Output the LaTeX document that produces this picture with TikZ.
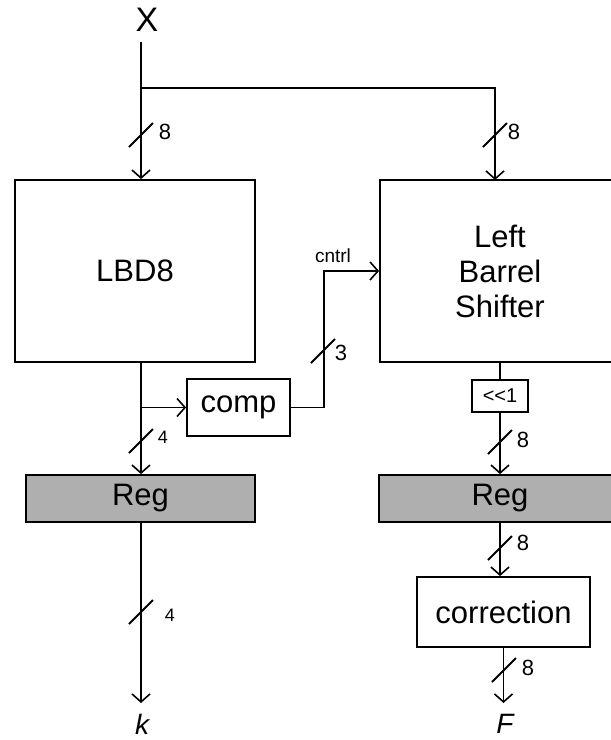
\documentclass[tikz,border=0pt]{standalone}
\usepackage{fontspec}
\setmainfont{Liberation Sans}
\usetikzlibrary{arrows.meta}
\definecolor{regfill}{RGB}{175,175,175}
\tikzset{
  blk/.style={draw, line width=1.8pt, inner sep=0pt, font=\fontsize{31}{35}\selectfont, align=center},
  arr/.style={line width=1.6pt, -{Straight Barb[length=8pt,width=18pt,line width=1.6pt]}},
  wire/.style={line width=1.6pt},
  busmark/.style={line width=1.8pt},
  buslbl/.style={font=\fontsize{22}{24}\selectfont, inner sep=0pt},
  buslbls/.style={font=\fontsize{18}{20}\selectfont, inner sep=0pt},
}
\begin{document}
\begin{tikzpicture}[x=1pt,y=-1pt]
\useasboundingbox (0,0) rectangle (611,740);
\clip (0,0) rectangle (611,740);

% blocks
\node[blk, minimum width=240pt, minimum height=182pt] (lbd) at (135,271) {LBD8};
\node[blk, minimum width=240pt, minimum height=182pt] (lbs) at (500,271) {Left\\Barrel\\Shifter};
\node[blk, minimum width=103pt, minimum height=57pt] (comp) at (238.5,407.5) {comp};
\node[blk, font=\fontsize{20}{22}\selectfont, minimum width=56pt, minimum height=32pt] (shl) at (500,396) {<{}<1};
\node[blk, fill=regfill, minimum width=229pt, minimum height=47pt] (regl) at (140.5,498.5) {Reg};
\node[blk, fill=regfill, minimum width=242pt, minimum height=47pt] (regr) at (500,498.5) {Reg};
\node[blk, minimum width=173pt, minimum height=70pt] (corr) at (503.5,612) {correction};

% terminals
\node[font=\fontsize{34}{36}\selectfont, inner sep=0pt] (X) at (147,20) {X};
\node[font=\itshape\fontsize{28}{30}\selectfont, inner sep=0pt] (k) at (142,724) {k};
\node[font=\itshape\fontsize{28}{30}\selectfont, inner sep=0pt] (F) at (505,724) {F};

\coordinate (xs) at (141,42);
\coordinate (br) at (141,88);
\coordinate (rt) at (495,180);
\coordinate (kt) at (141,703);
\coordinate (Ft) at (505,703);

% connectors
\draw[arr] (xs) -- (lbd.north -| xs);
\draw[arr] (br) -| (rt);
\draw[arr] (lbd.south -| xs) -- (regl.north -| xs);
\draw[arr] (comp.west -| xs) -- (comp.west);
\draw[arr] (comp.east) -- ++(33,0) |- (lbs.west);
\draw[arr] (regl.south -| xs) -- (kt);
\draw[wire] (lbs.south) -- (shl.north);
\draw[arr] (shl.south) -- (regr.north);
\draw[arr] (regr.south) -- (regr.south |- corr.north);
\draw[arr] (corr.south) -- (corr.south |- Ft);

% bus width marks
\draw[busmark] (141-12,135+12) -- ++(24,-24);
\node[buslbl] (b1) at (165,132) {8};
\draw[busmark] (495-12,135+12) -- ++(24,-24);
\node[buslbl] (b2) at (514,132) {8};
\draw[busmark] (323-12,351+12) -- ++(24,-24);
\node[buslbl] (b3) at (341,353) {3};
\draw[busmark] (141-12,441+12) -- ++(24,-24);
\node[buslbls] (b4) at (163,437) {4};
\draw[busmark] (500-12,442+12) -- ++(24,-24);
\node[buslbl] (b5) at (523,440) {8};
\draw[busmark] (500-12,548+12) -- ++(24,-24);
\node[buslbl] (b6) at (523,543) {8};
\draw[busmark] (141-12,612+12) -- ++(24,-24);
\node[buslbls] (b7) at (170,615) {4};
\draw[busmark] (504-12,670+12) -- ++(24,-24);
\node[buslbl] (b8) at (528,668) {8};

\node[font=\fontsize{19}{22}\selectfont, inner sep=0pt] (cn) at (333,256) {cntrl};
\end{tikzpicture}
\end{document}
